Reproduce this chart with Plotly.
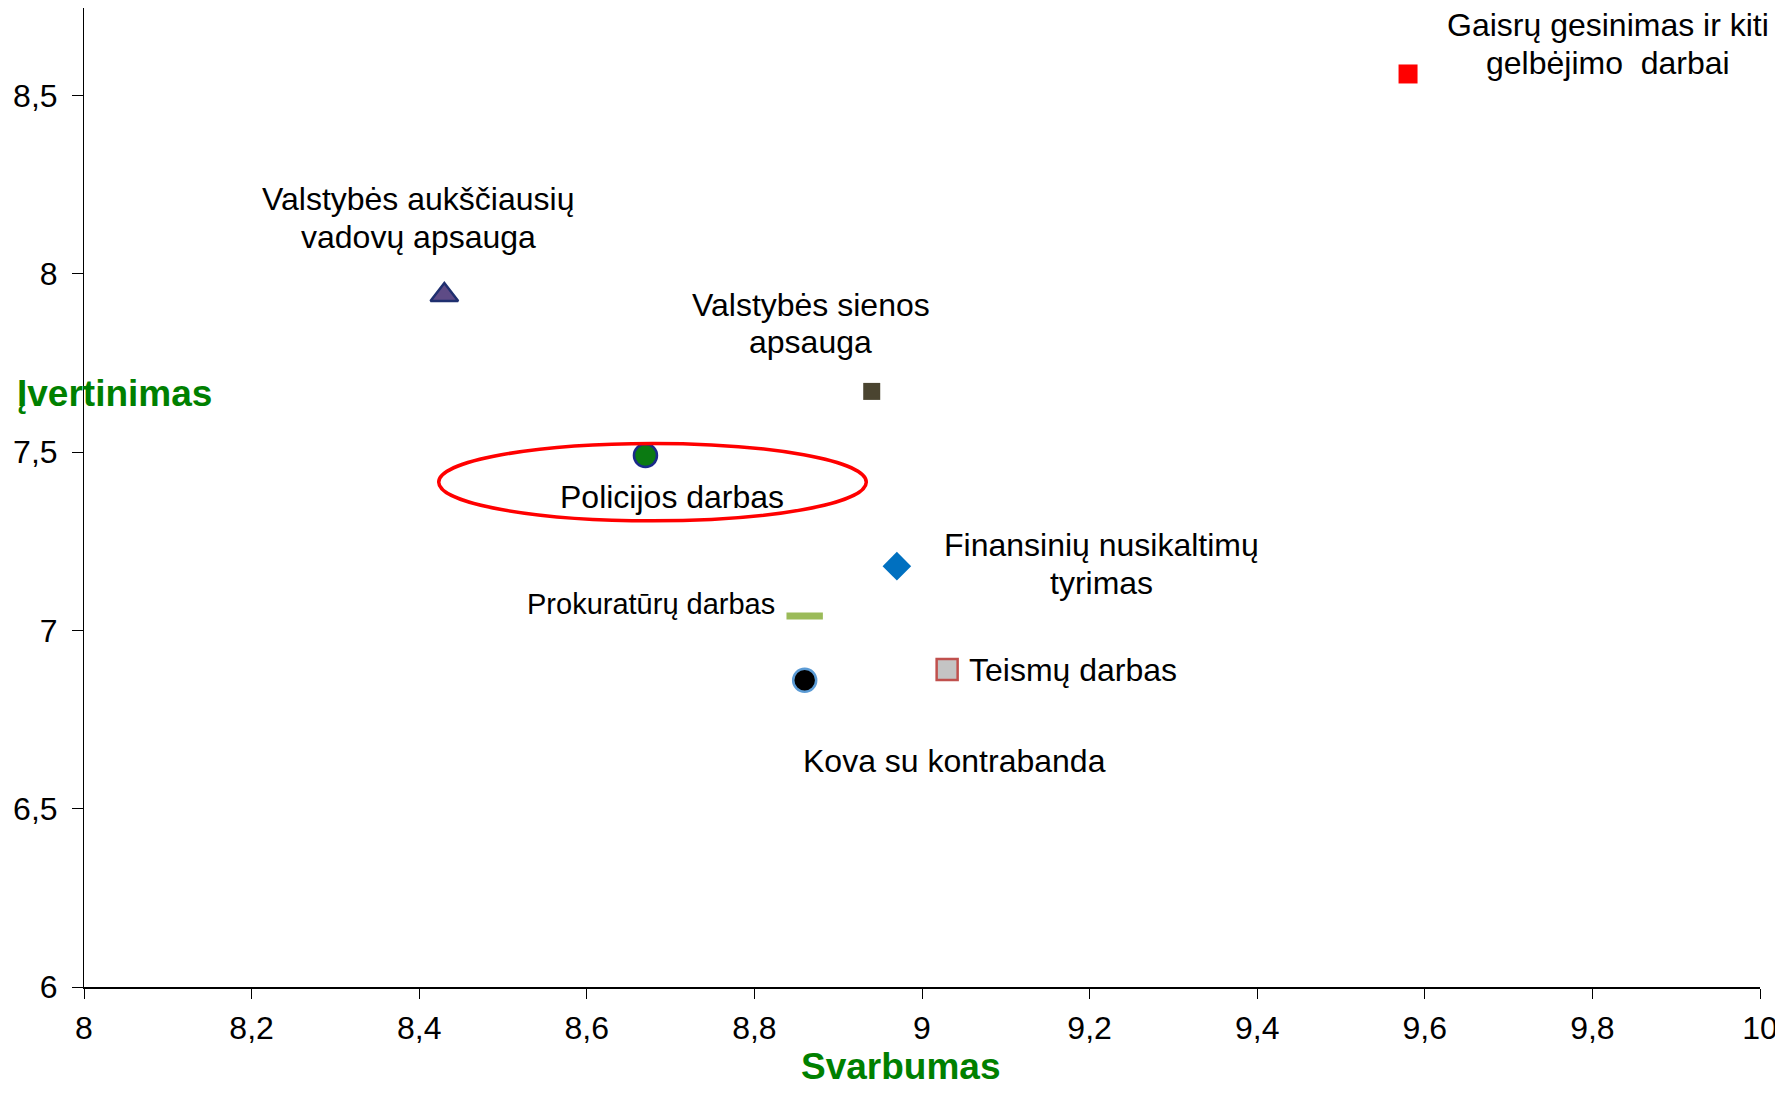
import plotly.graph_objects as go

names = [
    "Gaisrų gesinimas ir kiti<br>gelbėjimo  darbai",
    "Valstybės aukščiausių<br>vadovų apsauga",
    "Valstybės sienos<br>apsauga",
    "Policijos darbas",
    "Finansinių nusikaltimų<br>tyrimas",
    "Prokuratūrų darbas",
    "Kova su kontrabanda",
    "Teismų darbas",
]
svarbumas = [9.58, 8.43, 8.94, 8.67, 8.97, 8.86, 8.86, 9.03]
ivertinimas = [8.56, 7.94, 7.67, 7.49, 7.18, 7.04, 6.86, 6.89]

x_ticks = [8, 8.2, 8.4, 8.6, 8.8, 9, 9.2, 9.4, 9.6, 9.8, 10]
x_ticktext = ["8", "8,2", "8,4", "8,6", "8,8", "9", "9,2", "9,4", "9,6", "9,8", "10"]
y_ticks = [6, 6.5, 7, 7.5, 8, 8.5]
y_ticktext = ["6", "6,5", "7", "7,5", "8", "8,5"]

symbols = ["square", "triangle-up", "square", "circle", "diamond", "line-ew-open", "circle", "square"]
fills = ["#FF0000", "#5E4B86", "#4A4430", "#0B7A12", "#0070C0", "#9BBB59", "#000000", "#C4C4C4"]
borders = ["#FF0000", "#1F2F6F", "#4A4430", "#1A2A8A", "#0070C0", "#9BBB59", "#5B9BD5", "#C0504D"]
border_w = [0, 2.5, 0, 2.5, 0, 7, 2.5, 2.5]
sizes = [19, 24, 17, 23, 22, 26, 23, 21]

# label offsets (px) relative to each point (centre of the label block)
lab_dx = [200, -26, -61, 27, 205, -28, 150, 20]
lab_dy = [30, 77, 68, -41, 2, 12, -81, 0]
lab_anchor = ["center", "center", "center", "center", "center", "right", "center", "left"]
lab_size = [32, 32, 32, 32, 32, 29, 32, 32]
LINE_H = 37.5

FONT = "Liberation Sans, Arial, sans-serif"

fig = go.Figure()
for i in range(len(names)):
    fig.add_trace(go.Scatter(
        x=[svarbumas[i]], y=[ivertinimas[i]], mode="markers",
        marker=dict(symbol=symbols[i], size=sizes[i], color=fills[i],
                    line=dict(color=borders[i], width=border_w[i])),
        showlegend=False, hoverinfo="skip"))
    lines = names[i].split("<br>")
    n = len(lines)
    for j, ln in enumerate(lines):
        fig.add_annotation(x=svarbumas[i], y=ivertinimas[i], text=ln,
                           showarrow=False, xshift=lab_dx[i],
                           yshift=lab_dy[i] + ((n - 1) / 2 - j) * LINE_H,
                           xanchor=lab_anchor[i], yanchor="middle",
                           font=dict(family=FONT, size=lab_size[i], color="#000000"))

# highlight ellipse around Policijos darbas
fig.add_shape(type="circle", xref="x", yref="y", x0=8.4233, x1=8.9335, y0=7.307, y1=7.524,
              line=dict(color="#FF0000", width=3.5))

fig.add_annotation(xref="paper", yref="paper", x=0.0181, y=0.6063, text="<b>Įvertinimas</b>",
                   showarrow=False, xanchor="center", yanchor="middle",
                   font=dict(family=FONT, size=37, color="#008000"))
fig.add_annotation(xref="paper", yref="paper", x=0.4875, y=-0.081, text="<b>Svarbumas</b>",
                   showarrow=False, xanchor="center", yanchor="middle",
                   font=dict(family=FONT, size=37, color="#008000"))

fig.update_xaxes(range=[8, 10], tickvals=x_ticks, ticktext=x_ticktext,
                 showgrid=False, zeroline=False, showline=True, linecolor="#000000", linewidth=2,
                 ticks="outside", ticklen=10, tickcolor="#000000", tickwidth=1,
                 ticklabeloverflow="allow", ticklabelstandoff=2,
                 tickfont=dict(family=FONT, size=32, color="#000000"))
fig.update_yaxes(range=[6, 8.745], tickvals=y_ticks, ticktext=y_ticktext,
                 showgrid=False, zeroline=False, showline=True, linecolor="#000000", linewidth=1,
                 ticks="outside", ticklen=11, tickcolor="#000000", tickwidth=1,
                 ticklabeloverflow="allow", ticklabelstandoff=8,
                 tickfont=dict(family=FONT, size=32, color="#000000"))

fig.update_layout(width=1775, height=1080, margin=dict(l=76, r=23, t=0, b=101),
                  plot_bgcolor="white", paper_bgcolor="white")

fig.write_html("out.html")
